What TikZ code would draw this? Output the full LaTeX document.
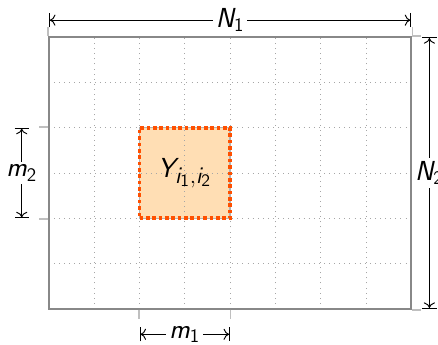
\documentclass[tikz,border=0pt]{standalone}
\usetikzlibrary{arrows.meta}
\DeclareMathAlphabet{\mathsfit}{OT1}{cmss}{m}{sl}
\DeclareMathAlphabet{\mathsfup}{OT1}{cmss}{m}{n}
\DeclareMathSizes{18.5}{18.5}{14}{10.5}
\definecolor{hlfill}{RGB}{255,222,180}
\definecolor{hlborder}{RGB}{255,80,0}
\definecolor{framegray}{RGB}{136,136,136}
\tikzset{
  gridline/.style={gray!70, line width=0.5pt, dash pattern=on 0.6pt off 2.6pt},
  frame/.style={draw=framegray, line width=1.3pt, inner sep=0pt, minimum width=8cm, minimum height=6cm},
  hlbox/.style={draw=gray!60, line width=0.8pt, inner sep=0pt, minimum width=2cm, minimum height=2cm,
    postaction={draw=hlborder, line width=2.3pt, dash pattern=on 2.3pt off 1.7pt}},
  ext/.style={gray!50, line width=0.8pt},
  dim/.style={black, line width=0.6pt, {Bar[width=9pt]To[length=3.5pt,width=7pt]}-{To[length=3.5pt,width=7pt]Bar[width=9pt]}},
  lbl/.style={fill=white, inner sep=2pt, font=\fontsize{17}{20}\selectfont}
}
\begin{document}
\begin{tikzpicture}[x=1cm,y=1cm]
\useasboundingbox (-1.08,-0.795) rectangle (8.59,6.82);
\fill[hlfill] (2,2) rectangle (4,4);
\draw[gridline] (0,0) grid (8,6);
\node[frame] (R) at (4,3) {};
\node[hlbox, font=\fontsize{18.5}{22}\selectfont] (Y) at (3,3) {$\mathsfit{Y}_{\mathsfit{i}_{\mathsfup{1}},\mathsfit{i}_{\mathsfup{2}}}$};
% extension coordinates
\coordinate (tl) at (0,6.375); \coordinate (tr) at (8,6.375);
\coordinate (rt) at (8.4,6); \coordinate (rb) at (8.4,0);
\coordinate (lt) at (-0.6,4); \coordinate (lb) at (-0.6,2);
\coordinate (bl) at (2,-0.56); \coordinate (br) at (4,-0.56);
% extension lines
\draw[ext] (R.north west) -- ++(0,0.2);
\draw[ext] (R.north east) -- ++(0,0.2);
\draw[ext] (R.north east) -- ++(0.2,0);
\draw[ext] (R.south east) -- ++(0.2,0);
\draw[ext] (Y.north west) ++(-2,0) -- ++(-0.2,0);
\draw[ext] (Y.south west) ++(-2,0) -- ++(-0.2,0);
\draw[ext] (Y.south west) ++(0,-2) -- ++(0,-0.2);
\draw[ext] (Y.south east) ++(0,-2) -- ++(0,-0.2);
% dimension lines
\draw[dim] (tl) -- node[lbl] (n1) {$\mathsfit{N}_{\mathsfup{1}}$} (tr);
\draw[dim] (rt) -- node[lbl] (n2) {$\mathsfit{N}_{\mathsfup{2}}$} (rb);
\draw[dim] (lt) -- node[lbl] (m2) {$\mathsfit{m}_{\mathsfup{2}}$} (lb);
\draw[dim] (bl) -- node[lbl] (m1) {$\mathsfit{m}_{\mathsfup{1}}$} (br);
\end{tikzpicture}
\end{document}
